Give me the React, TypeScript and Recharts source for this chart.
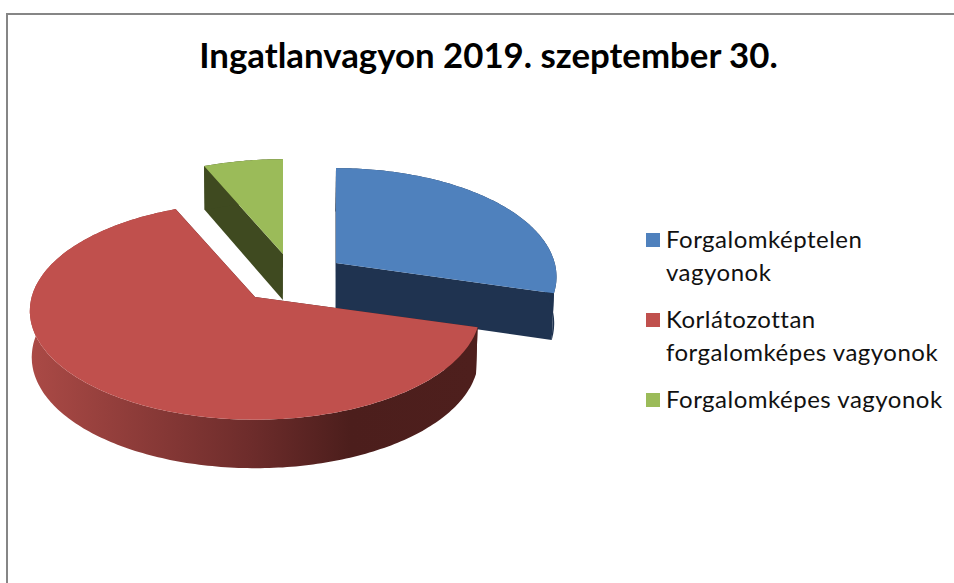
import { Legend, Pie, PieChart } from "recharts"

const categories = [
  "Forgalomképtelen vagyonok",
  "Korlátozottan forgalomképes vagyonok",
  "Forgalomképes vagyonok",
]
const shares = [29.4, 64.1, 6.5]

const topColors = ["#4f81bd", "#c0504d", "#9bbb59"]
const sideColors = ["#1f3350", "url(#redWall)", "#3f4a20"]
const cutColors = ["#1f3350", "#4e1f1d", "#3f4a20"]

// how far each slice is pulled out of the pie, in px
const explodeX = [46, -35, -7]
const explodeY = [-12, 22, -21]
const sliceScale = [0.985, 1.006, 1]

const FONT = "Lato, 'Open Sans', sans-serif"
const TILT_TOP = 107 // vertical radius before perspective
const PERSPECTIVE = 0.128
const DEPTH = 46

const table = categories.map((name, i) => ({ name, value: shares[i], fill: topColors[i] }))

// projects a point of the flat pie onto the tilted one
function project(cx: number, cy: number, r: number, angle: number) {
  const a = (angle * Math.PI) / 180
  const u = Math.cos(a)
  const v = -Math.sin(a)
  const w = 1 / (1 - PERSPECTIVE * v)
  return { x: cx + r * u * w, y: cy + TILT_TOP * v * w, v }
}

function drop(p: { x: number; y: number; v: number }) {
  return { x: 270 + (p.x - 270) * 0.992, y: p.y + DEPTH + p.v * 2.5 }
}

function toPath(points: { x: number; y: number }[]) {
  return "M" + points.map((p) => `${p.x.toFixed(1)},${p.y.toFixed(1)}`).join("L") + "Z"
}

function Slice3D(props: any) {
  const { cx, cy, outerRadius, startAngle, endAngle, name } = props
  const i = categories.indexOf(name)
  const ox = cx + explodeX[i]
  const oy = cy + explodeY[i]
  const r = outerRadius * sliceScale[i]

  const arc: { x: number; y: number; v: number }[] = []
  const steps = Math.ceil(Math.abs(endAngle - startAngle))
  for (let s = 0; s <= steps; s++) {
    arc.push(project(ox, oy, r, startAngle + ((endAngle - startAngle) * s) / steps))
  }
  const apex = { x: ox, y: oy, v: 0 }
  const first = arc[0]
  const last = arc[arc.length - 1]

  const cutA = [apex, first, drop(first), drop(apex)]
  const cutB = [apex, last, drop(last), drop(apex)]
  const wall = [...arc, ...arc.map(drop).reverse()]
  const top = [apex, ...arc]

  return (
    <g>
      <path d={toPath(cutA)} fill={cutColors[i]} />
      <path d={toPath(cutB)} fill={cutColors[i]} />
      <path d={toPath(wall)} fill={sideColors[i]} />
      <path d={toPath(top)} fill={topColors[i]} />
    </g>
  )
}

function LegendList(props: any) {
  const items = props.payload ?? []
  return (
    <div style={{ fontFamily: FONT, fontSize: 24, letterSpacing: 0.5, lineHeight: "33px", color: "#111" }}>
      {items.map((item: any) => (
        <div key={item.value} style={{ display: "flex", marginBottom: 14 }}>
          <span
            style={{
              width: 14,
              height: 14,
              marginTop: 11,
              marginRight: 6,
              flex: "none",
              background: item.color,
            }}
          />
          <span>{item.value}</span>
        </div>
      ))}
    </div>
  )
}

export default function App() {
  return (
    <div style={{ position: "absolute", left: 0, top: 0, width: 954, height: 583, overflow: "hidden", background: "#fff" }}>
      <div
        style={{
          position: "absolute",
          left: 6,
          top: 13,
          right: 0,
          bottom: 0,
          borderLeft: "2px solid #868686",
          borderTop: "2px solid #868686",
        }}
      />
      <PieChart width={954} height={583} margin={{ top: 0, right: 0, bottom: 0, left: 0 }}>
        <defs>
          <linearGradient id="redWall" gradientUnits="userSpaceOnUse" x1="29" y1="0" x2="475" y2="0">
            <stop offset="0" stopColor="#ab4a46" />
            <stop offset="0.5" stopColor="#6d2c2b" />
            <stop offset="0.72" stopColor="#4c1e1c" />
            <stop offset="1" stopColor="#4e1f1d" />
          </linearGradient>
        </defs>
        <text x={488.5} y={68} textAnchor="middle" fontFamily={FONT} fontWeight={700} fontSize={34.8} fill="#000">
          Ingatlanvagyon 2019. szeptember 30.
        </text>
        <Pie
          data={table}
          dataKey="value"
          nameKey="name"
          cx={290}
          cy={275}
          outerRadius={222}
          startAngle={90}
          endAngle={-270}
          stroke="none"
          shape={Slice3D}
          isAnimationActive={false}
        />
        <Legend
          layout="vertical"
          itemSorter={null}
          content={<LegendList />}
          wrapperStyle={{ left: 646, top: 222, width: 300, bottom: "auto", right: "auto" }}
        />
      </PieChart>
    </div>
  )
}
